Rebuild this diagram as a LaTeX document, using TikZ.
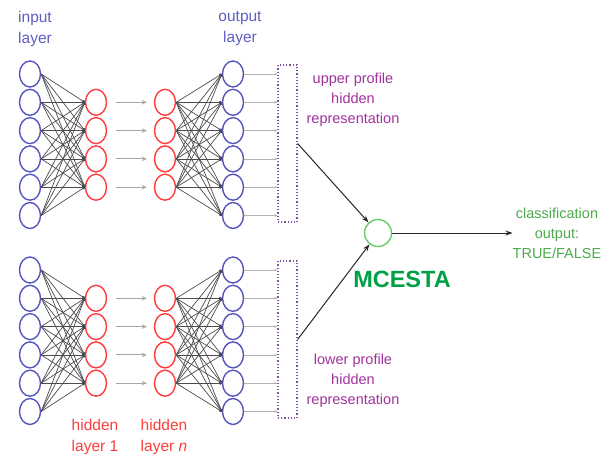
\documentclass[tikz,border=0pt]{standalone}
\usepackage{fontspec}
\setmainfont{Liberation Sans}
\usetikzlibrary{arrows.meta,shapes.geometric}
\definecolor{blueC}{RGB}{85,85,190}
\definecolor{blueT}{RGB}{95,95,195}
\definecolor{redC}{RGB}{255,60,60}
\definecolor{purT}{RGB}{160,50,156}
\definecolor{boxC}{RGB}{130,80,160}
\definecolor{greenC}{RGB}{100,205,100}
\definecolor{greenM}{RGB}{0,160,70}
\definecolor{greenT}{RGB}{75,170,75}
\begin{document}
\begin{tikzpicture}[x=1pt,y=-1pt,
  inn/.style={ellipse, draw=blueC, line width=1.4pt, minimum width=21pt, minimum height=26pt, inner sep=0pt},
  hid/.style={ellipse, draw=redC, line width=1.4pt, minimum width=21pt, minimum height=26pt, inner sep=0pt},
  conn/.style={draw=black!70, line width=0.7pt, -{Circle[length=3pt]}},
  garrow/.style={draw=black!35, line width=1.1pt, -{Stealth[length=5pt,width=4.5pt]}},
  oarrow/.style={draw=black!30, line width=0.8pt, -{Stealth[length=3pt,width=2.5pt]}},
  repbox/.style={draw=boxC, line width=1.2pt, dash pattern=on 1.2pt off 2pt, minimum width=19pt, minimum height=157pt, inner sep=0pt},
  mainarrow/.style={draw=black!85, line width=1pt, -{Stealth[length=7pt,width=5pt]}},
  lbl/.style={align=center, inner sep=0pt, font=\fontsize{15.5}{21}\selectfont},
  rlbl/.style={align=center, inner sep=0pt, font=\fontsize{14.5}{20}\selectfont}]
\useasboundingbox (0,0) rectangle (616,461);
\foreach \n/\b in {u/74,l/270}{
  \foreach \i in {0,...,5}{
    \node[inn] (\n-in-\i) at (30,\b+28.3*\i) {};
    \node[inn] (\n-out-\i) at (233,\b+28.3*\i) {};
  }
  \foreach \j in {1,...,4}{
    \node[hid] (\n-ha-\j) at (96,\b+28.3*\j) {};
    \node[hid] (\n-hb-\j) at (165,\b+28.3*\j) {};
  }
  \node[repbox] (\n-box) at (287.5,\b+69.5) {};
  \foreach \i in {0,...,5}{
    \foreach \j in {1,...,4}{
      \draw[conn] (\n-in-\i.east) -- (\n-ha-\j.west);
      \draw[conn] (\n-hb-\j.east) -- (\n-out-\i.west);
    }
    \draw[oarrow] (\n-out-\i.east) -- (\n-out-\i.east -| \n-box.west);
  }
  \foreach \j in {1,...,4}{
    \draw[garrow] ([xshift=8.5pt]\n-ha-\j.east) -- ([xshift=-7pt]\n-hb-\j.west);
  }
}
\node[circle, draw=greenC, line width=1.4pt, minimum size=27pt, inner sep=0pt] (m) at (378,233) {};
\draw[mainarrow] (u-box.east) -- (m);
\draw[mainarrow] (l-box.east) -- (m);
\node[rlbl, text=greenT] (cls) at (557,233) {classification\\output:\\TRUE/FALSE};
\draw[mainarrow] (m.east) -- (cls.west);
\node[font=\fontsize{23.5}{25}\selectfont\bfseries, text=greenM, inner sep=0pt] (mc) at (402,279) {MCESTA};
\node[lbl, text=blueT] (inl) at (35,29) {input\\layer};
\node[lbl, text=blueT] (outl) at (240,29) {output\\layer};
\node[lbl, text=redC] (h1l) at (95,437) {hidden\\layer 1};
\node[lbl, text=redC] (hnl) at (164,437) {hidden\\layer \textit{n}};
\node[rlbl, text=purT] (upl) at (353,100) {upper profile\\hidden\\representation};
\node[rlbl, text=purT] (lol) at (353,381) {lower profile\\hidden\\representation};
\end{tikzpicture}
\end{document}
